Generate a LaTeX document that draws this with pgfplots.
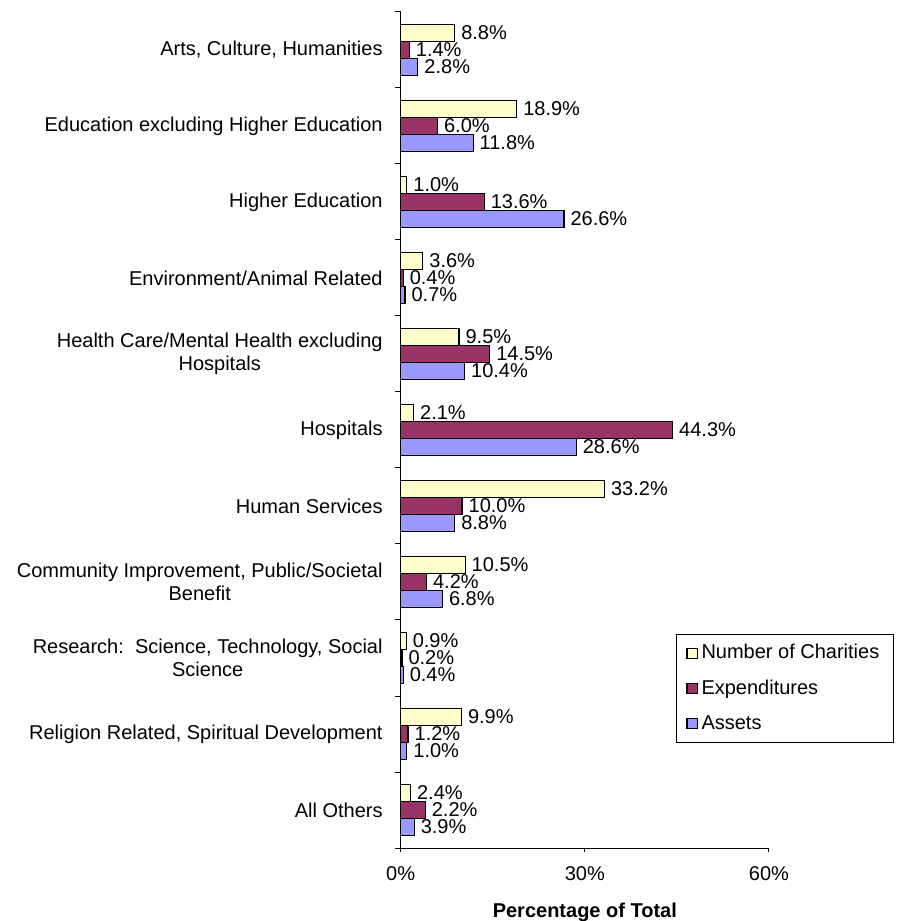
\documentclass[border=0pt]{standalone}
\usepackage{fontspec}
\setmainfont{Liberation Sans}
\usepackage{pgfplots}
\pgfplotsset{compat=1.18}
\definecolor{cyel}{HTML}{FFFFCC}
\definecolor{cred}{HTML}{993366}
\definecolor{cblu}{HTML}{9999FF}
\begin{document}
\begin{tikzpicture}
\begin{axis}[
  at={(0,0)}, anchor=south west,
  scale only axis, width=184.15pt, height=418pt,
  xbar, xmin=0, xmax=60, ymin=-0.5, ymax=10.5,
  clip=false,
  axis x line*=bottom, axis y line*=left,
  axis line style={black, line width=0.5pt},
  tick align=outside,
  xtick={0,30,60}, xticklabels={0\%,30\%,60\%},
  ytick={0,1,2,3,4,5,6,7,8,9,10},
  yticklabels={All Others,
    {Religion Related, Spiritual Development},
    {Research:\ \ Science, Technology, Social\\Science},
    {Community Improvement, Public/Societal\\Benefit},
    Human Services,
    Hospitals,
    {Health Care/Mental Health excluding\\Hospitals},
    Environment/Animal Related,
    Higher Education,
    Education excluding Higher Education,
    {Arts, Culture, Humanities}},
  minor ytick={-0.5,0.5,...,10.5},
  every major y tick/.append style={draw=none},
  major tick length=2pt, minor tick length=3pt,
  tick style={black, line width=0.5pt},
  yticklabel style={align=center, anchor=east, inner sep=0pt, xshift=-6.85pt,
    font=\fontsize{10}{11.5}\selectfont},
  xticklabel style={anchor=base, inner sep=0pt, yshift=-14pt},
  xlabel={Percentage of Total},
  xlabel style={font=\bfseries, at={(rel axis cs:0.5,0)}, anchor=base, inner sep=0pt, yshift=-34.5pt},
  point meta=explicit symbolic,
  nodes near coords={\pgfplotspointmeta\%},
  every node near coord/.append style={black, font=\fontsize{10}{12}\selectfont, anchor=west, inner sep=3pt},
  bar width=0.2237,
  legend image code/.code={\draw[#1,draw=black,line width=0.5pt] (0pt,-2.5pt) rectangle (5pt,2.5pt);},
  legend style={at={(rel axis cs:0.7475,0.256)}, anchor=north west, draw=black, line width=0.5pt,
    font=\fontsize{10}{12}\selectfont, row sep=5pt, inner xsep=5pt, inner ysep=3pt,
    cells={anchor=west}},
]
\addplot+[fill=cyel, draw=black, line width=0.6pt, bar shift=0.2237] coordinates {
  (1.6,0) [2.4] (9.9,1) [9.9] (0.9,2) [0.9] (10.5,3) [10.5] (33.2,4) [33.2]
  (2.1,5) [2.1] (9.5,6) [9.5] (3.6,7) [3.6] (1.0,8) [1.0] (18.9,9) [18.9] (8.8,10) [8.8]};
\addlegendentry{Number of Charities}
\addplot+[fill=cred, draw=black, line width=0.6pt, bar shift=0] coordinates {
  (4.0,0) [2.2] (1.2,1) [1.2] (0.2,2) [0.2] (4.2,3) [4.2] (10.0,4) [10.0]
  (44.3,5) [44.3] (14.5,6) [14.5] (0.4,7) [0.4] (13.6,8) [13.6] (6.0,9) [6.0] (1.4,10) [1.4]};
\addlegendentry{Expenditures}
\addplot+[fill=cblu, draw=black, line width=0.6pt, bar shift=-0.2237] coordinates {
  (2.2,0) [3.9] (1.0,1) [1.0] (0.4,2) [0.4] (6.8,3) [6.8] (8.8,4) [8.8]
  (28.6,5) [28.6] (10.4,6) [10.4] (0.7,7) [0.7] (26.6,8) [26.6] (11.8,9) [11.8] (2.8,10) [2.8]};
\addlegendentry{Assets}
\end{axis}
\pgfresetboundingbox
\path[use as bounding box] (-200.35pt,-36.5pt) rectangle (249.65pt,424pt);
\end{tikzpicture}
\end{document}
